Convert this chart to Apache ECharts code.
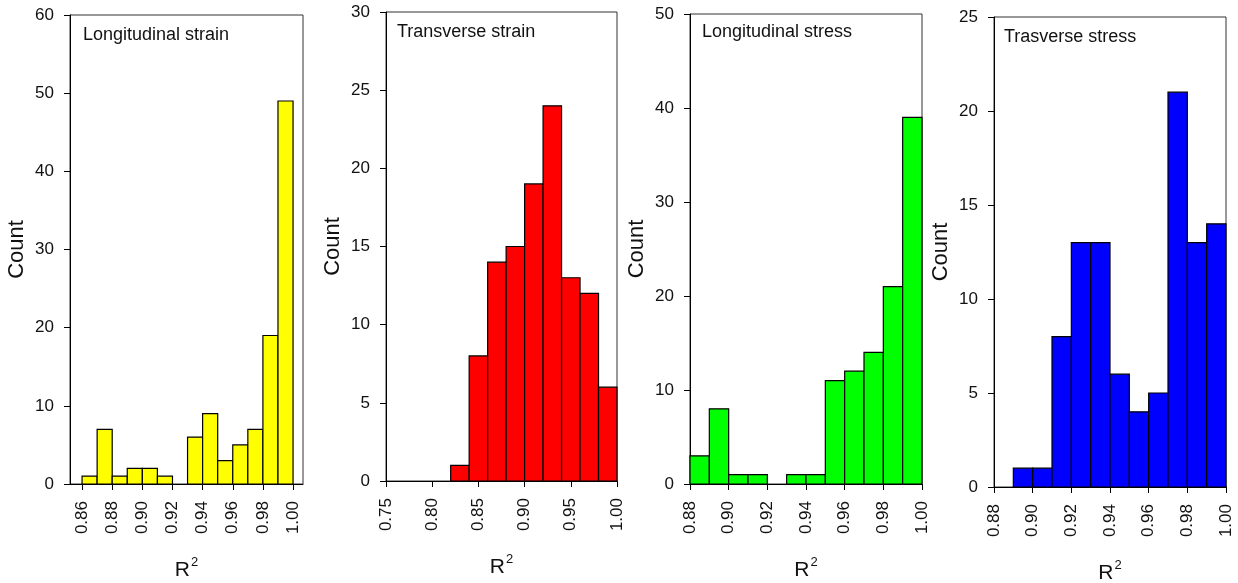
<!DOCTYPE html>
<html>
<head>
<meta charset="utf-8">
<script src="https://cdn.jsdelivr.net/npm/echarts@6/dist/echarts.min.js"></script>
<style>
  html, body { margin: 0; padding: 0; background: #fff; }
  #chart { width: 1238px; height: 583px; }
</style>
</head>
<body>
<div id="chart"></div>
<script>
// panel titles
const titles = ['Longitudinal strain', 'Transverse strain', 'Longitudinal stress', 'Trasverse stress']
const colors = ['#ffff00', '#ff0000', '#00ff00', '#0000ff']

// histogram bins: left edge of each bin + bin width, counts
const binLeft1 = [0.86, 0.87, 0.88, 0.89, 0.90, 0.91, 0.92, 0.93, 0.94, 0.95, 0.96, 0.97, 0.98, 0.99]
const counts1 = [1, 7, 1, 2, 2, 1, 0, 6, 9, 3, 5, 7, 19, 49]
const binLeft2 = [0.82, 0.84, 0.86, 0.88, 0.90, 0.92, 0.94, 0.96, 0.98]
const counts2 = [1, 8, 14, 15, 19, 24, 13, 12, 6]
const binLeft3 = [0.88, 0.89, 0.90, 0.91, 0.92, 0.93, 0.94, 0.95, 0.96, 0.97, 0.98, 0.99]
const counts3 = [3, 8, 1, 1, 0, 1, 1, 11, 12, 14, 21, 39]
const binLeft4 = [0.88, 0.89, 0.90, 0.91, 0.92, 0.93, 0.94, 0.95, 0.96, 0.97, 0.98, 0.99]
const counts4 = [0, 1, 1, 8, 13, 13, 6, 4, 5, 21, 13, 14]
const binWidths = [0.01, 0.02, 0.01, 0.01]

// x tick labels
const xTicks1 = [0.86, 0.88, 0.90, 0.92, 0.94, 0.96, 0.98, 1.00]
const xTicks2 = [0.75, 0.80, 0.85, 0.90, 0.95, 1.00]
const xTicks3 = [0.88, 0.90, 0.92, 0.94, 0.96, 0.98, 1.00]
const xTicks4 = [0.88, 0.90, 0.92, 0.94, 0.96, 0.98, 1.00]
// x axis range
const xRange1 = [0.852, 1.0066]
const xRange2 = [0.75, 1.00]
const xRange3 = [0.88, 1.00]
const xRange4 = [0.88, 1.00]
// y axis range + step
const yMax = [60, 30, 50, 25]
const yStep = [10, 5, 10, 5]

const panels = [
  { left: binLeft1, counts: counts1, ticks: xTicks1, range: xRange1 },
  { left: binLeft2, counts: counts2, ticks: xTicks2, range: xRange2 },
  { left: binLeft3, counts: counts3, ticks: xTicks3, range: xRange3 },
  { left: binLeft4, counts: counts4, ticks: xTicks4, range: xRange4 }
]

// grid boxes in px
const grids = [
  { left: 70, top: 15, width: 233, height: 469 },
  { left: 386, top: 12, width: 231, height: 469 },
  { left: 690, top: 14, width: 232, height: 470 },
  { left: 994, top: 17, width: 232, height: 470 }
]
const titlePos = [
  { left: 83, top: 26 },
  { left: 397, top: 23 },
  { left: 702, top: 23 },
  { left: 1004, top: 28 }
]

const FONT = '"Liberation Sans", Arial, sans-serif'
const TXT = '#111'

function makeRender(color) {
  return function (params, api) {
    const y = api.value(2)
    if (!y) return null
    const p0 = api.coord([api.value(0), y])
    const p1 = api.coord([api.value(1), 0])
    return {
      type: 'rect',
      shape: { x: p0[0], y: p0[1], width: p1[0] - p0[0], height: p1[1] - p0[1] },
      style: { fill: color, stroke: '#000', lineWidth: 1.2 }
    }
  }
}

let option = {
  animation: false,
  textStyle: { fontFamily: FONT },
  title: [],
  grid: [],
  xAxis: [],
  yAxis: [],
  series: []
}

panels.forEach((p, i) => {
  option.grid.push({
    ...grids[i],
    outerBoundsMode: 'none',
    containLabel: false,
    show: true,
    borderColor: '#333',
    borderWidth: 1,
    backgroundColor: 'transparent'
  })

  option.title.push({
    text: titles[i],
    left: titlePos[i].left,
    top: titlePos[i].top,
    padding: 0,
    textStyle: { fontFamily: FONT, fontSize: 18, fontWeight: 'normal', color: TXT }
  })

  option.xAxis.push({
    type: 'value',
    gridIndex: i,
    min: p.range[0],
    max: p.range[1],
    name: 'R{sup|2}',
    nameLocation: 'middle',
    nameGap: 72,
    nameTextStyle: {
      fontFamily: FONT, fontSize: 21, color: TXT,
      rich: { sup: { fontFamily: FONT, fontSize: 13, color: TXT, verticalAlign: 'top', padding: [0, 0, 16, 1] } }
    },
    splitLine: { show: false },
    axisLine: { lineStyle: { color: '#000', width: 1 } },
    axisTick: { show: true, length: 6, customValues: p.ticks, lineStyle: { color: '#000' } },
    axisLabel: {
      customValues: p.ticks,
      rotate: 90,
      margin: 17,
      fontFamily: FONT,
      fontSize: 17,
      color: TXT,
      formatter: (v) => v.toFixed(2)
    }
  })

  option.yAxis.push({
    type: 'value',
    gridIndex: i,
    min: 0,
    max: yMax[i],
    interval: yStep[i],
    name: 'Count',
    nameLocation: 'middle',
    nameGap: 42,
    nameTextStyle: { fontFamily: FONT, fontSize: 22, color: TXT },
    splitLine: { show: false },
    axisLine: { show: true, lineStyle: { color: '#000', width: 1 } },
    axisTick: { show: true, length: 6, lineStyle: { color: '#000' } },
    axisLabel: { margin: 16, fontFamily: FONT, fontSize: 17, color: TXT }
  })

  option.series.push({
    type: 'custom',
    xAxisIndex: i,
    yAxisIndex: i,
    renderItem: makeRender(colors[i]),
    encode: { x: [0, 1], y: 2 },
    data: p.left.map((l, k) => [l, +(l + binWidths[i]).toFixed(3), p.counts[k]])
  })
})

const chart = echarts.init(document.getElementById('chart'))
chart.setOption(option)
</script>
</body>
</html>
